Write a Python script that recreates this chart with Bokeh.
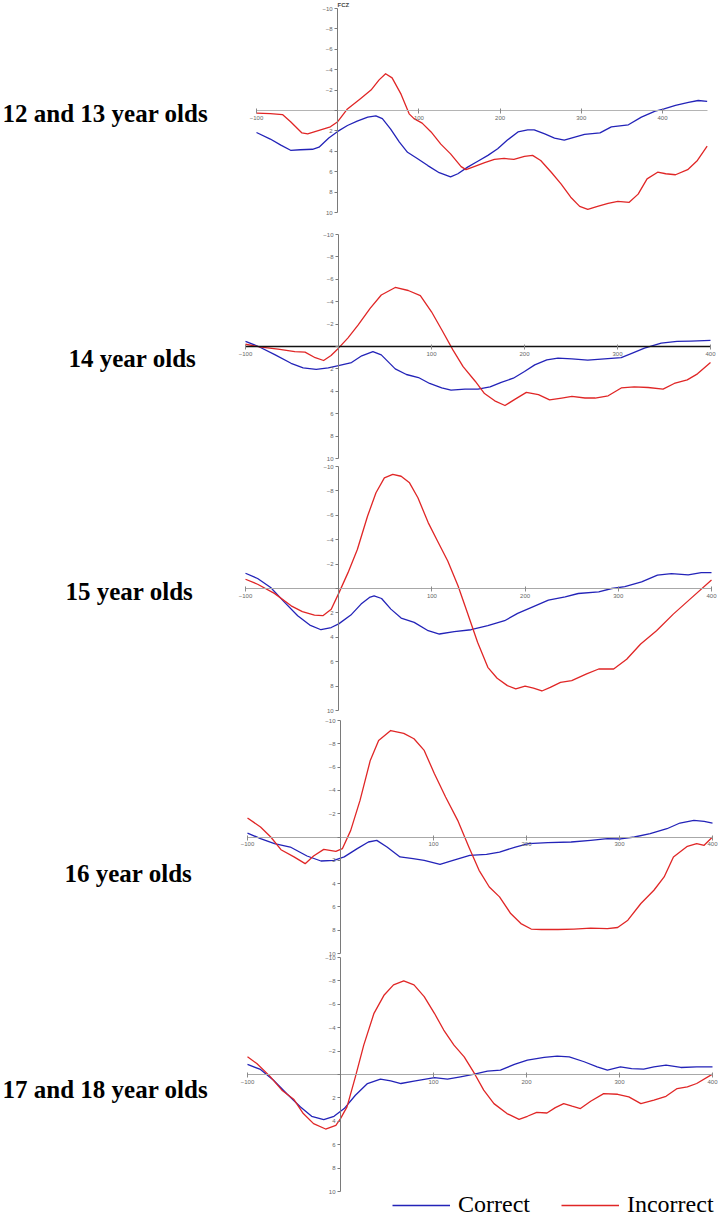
from bokeh.plotting import figure
from bokeh.models import Range1d, LinearAxis, FixedTicker, Label, Legend, LegendItem
from bokeh.embed import file_html
from bokeh.resources import INLINE

# ---------------- data (time in ms, amplitude in microvolts) ----------------
group_labels = ["12 and 13 year olds", "14 year olds", "15 year olds",
                "16 year olds", "17 and 18 year olds"]
series_names = ["Correct", "Incorrect"]
channel_name = "FCZ"
y_ticks = [-10, -8, -6, -4, -2, 0, 2, 4, 6, 8, 10]
x_ticks = [-100, 100, 200, 300, 400]

g1_correct_t = [-100, -83, -70, -58, -46, -31, -23, -11, 0, 12, 24, 37, 47, 55, 65, 76, 86, 98, 111, 125,
                139, 148, 160, 172, 185, 197, 209, 222, 234, 242, 255, 267, 279, 292, 304, 323, 337, 358,
                374, 391, 401, 416, 432, 444, 455]
g1_correct_v = [2.16, 2.8, 3.4, 3.9, 3.85, 3.8, 3.6, 2.7, 2.05, 1.47, 1.05, 0.65, 0.52, 0.8, 1.8, 3.1, 4.1,
                4.7, 5.4, 6.1, 6.5, 6.2, 5.55, 5.0, 4.4, 3.75, 2.9, 2.1, 1.9, 1.9, 2.3, 2.7, 2.9, 2.6, 2.35,
                2.2, 1.6, 1.4, 0.65, 0.07, -0.13, -0.5, -0.8, -0.98, -0.9]
g1_incorrect_t = [-100, -83, -68, -58, -44, -37, -25, -9, 0, 12, 28, 41, 51, 59, 67, 78, 88, 94, 104, 115,
                  127, 139, 152, 158, 168, 181, 193, 205, 217, 230, 240, 250, 263, 275, 287, 298, 308, 320,
                  333, 345, 359, 370, 381, 394, 404, 416, 431, 443, 455]
g1_incorrect_v = [0.26, 0.3, 0.4, 1.1, 2.2, 2.3, 2.0, 1.6, 1.1, -0.15, -1.15, -2.0, -3.0, -3.6, -3.2, -1.6,
                  0.33, 0.8, 1.24, 2.1, 3.3, 4.25, 5.5, 5.8, 5.5, 5.1, 4.8, 4.7, 4.8, 4.5, 4.4, 4.9, 6.05,
                  7.2, 8.5, 9.4, 9.7, 9.4, 9.1, 8.9, 9.0, 8.2, 6.7, 6.05, 6.2, 6.3, 5.8, 4.9, 3.5]

g2_correct_t = [-100, -86, -68, -51, -38, -24, -11, 0, 14, 25, 37, 46, 61, 73, 86, 98, 111, 121, 136, 150,
                163, 175, 188, 200, 211, 224, 236, 251, 268, 286, 304, 316, 329, 347, 364, 379, 400]
g2_correct_v = [-0.45, 0, 0.75, 1.5, 1.9, 2.05, 1.9, 1.7, 1.43, 0.83, 0.45, 0.75, 2.0, 2.5, 2.77, 3.3, 3.7,
                3.9, 3.8, 3.8, 3.6, 3.2, 2.83, 2.23, 1.64, 1.2, 1.04, 1.1, 1.22, 1.1, 1.0, 0.6, 0.15, -0.3,
                -0.45, -0.48, -0.54]
g2_incorrect_t = [-100, -83, -65, -47, -36, -25, -16, -8, 0, 10, 21, 34, 46, 61, 75, 88, 100, 111, 123, 134,
                  147, 157, 168, 179, 190, 202, 215, 227, 240, 251, 265, 276, 290, 304, 318, 333, 349, 361,
                  375, 386, 400]
g2_incorrect_v = [-0.2, 0.06, 0.24, 0.45, 0.5, 1.0, 1.25, 0.8, 0.15, -0.75, -1.9, -3.4, -4.6, -5.27, -5.0,
                  -4.55, -3.1, -1.5, 0.3, 1.8, 3.1, 4.2, 4.85, 5.27, 4.7, 4.1, 4.3, 4.76, 4.6, 4.46, 4.6,
                  4.6, 4.4, 3.7, 3.6, 3.66, 3.8, 3.3, 2.98, 2.44, 1.43]

g3_correct_t = [-100, -87, -73, -58, -44, -31, -19, -8, 0, 13, 24, 33, 38, 46, 56, 67, 81, 96, 108, 124,
                142, 160, 178, 192, 207, 225, 243, 257, 279, 293, 307, 325, 342, 357, 375, 389, 400]
g3_correct_v = [-1.25, -0.82, -0.08, 1.14, 2.23, 3.0, 3.38, 3.2, 2.9, 2.18, 1.28, 0.73, 0.6, 0.82, 1.69,
                2.42, 2.78, 3.46, 3.73, 3.54, 3.38, 3.05, 2.64, 2.04, 1.55, 0.95, 0.68, 0.41, 0.27, 0,
                -0.16, -0.54, -1.09, -1.22, -1.12, -1.3, -1.3]
g3_incorrect_t = [-100, -87, -69, -51, -39, -26, -17, -8, 0, 10, 20, 31, 40, 49, 58, 67, 76, 85, 96, 106,
                  117, 128, 138, 149, 160, 170, 181, 190, 200, 209, 218, 227, 238, 250, 266, 279, 295, 309,
                  324, 341, 359, 377, 400]
g3_incorrect_v = [-0.76, -0.35, 0.4, 1.42, 1.9, 2.18, 2.23, 1.7, 0.4, -1.3, -3.2, -5.94, -7.85, -9.07,
                  -9.35, -9.2, -8.66, -7.44, -5.4, -3.9, -2.26, -0.22, 1.96, 4.41, 6.46, 7.36, 7.96, 8.23,
                  8.0, 8.17, 8.4, 8.1, 7.7, 7.55, 7.0, 6.6, 6.6, 5.8, 4.55, 3.46, 2.1, 0.87, -0.7]

g4_correct_t = [-100, -86, -71, -54, -36, -21, -7, 4, 18, 30, 39, 50, 64, 78, 90, 107, 121, 139, 157, 171,
                188, 202, 223, 248, 269, 287, 301, 316, 333, 351, 365, 380, 391, 400]
g4_correct_v = [-0.34, 0.14, 0.57, 0.86, 1.63, 2.06, 2.0, 1.71, 1.0, 0.43, 0.29, 0.86, 1.71, 1.86, 2.0,
                2.34, 2.0, 1.57, 1.49, 1.29, 0.86, 0.57, 0.49, 0.43, 0.29, 0.14, 0.17, 0, -0.29, -0.71,
                -1.2, -1.43, -1.34, -1.2]
g4_incorrect_t = [-100, -86, -75, -64, -50, -38, -29, -18, -5, 2, 11, 21, 32, 41, 54, 68, 79, 90, 101, 113,
                  126, 138, 149, 160, 171, 183, 194, 205, 216, 234, 251, 269, 287, 298, 309, 323, 337, 348,
                  358, 373, 383, 391, 400]
g4_incorrect_v = [-1.63, -0.86, 0, 1.09, 1.71, 2.29, 1.63, 1.06, 1.23, 1.0, -0.57, -3.14, -6.57, -8.29,
                  -9.14, -8.9, -8.43, -7.43, -5.43, -3.43, -1.43, 0.86, 2.86, 4.29, 5.14, 6.57, 7.43, 7.9,
                  7.94, 7.94, 7.9, 7.83, 7.86, 7.77, 7.14, 5.71, 4.57, 3.43, 1.71, 0.8, 0.57, 0.71, 0]

g5_correct_t = [-100, -86, -72, -58, -43, -31, -18, -7, 4, 16, 29, 43, 54, 65, 79, 101, 115, 129, 144, 158,
                172, 187, 201, 219, 233, 246, 262, 276, 287, 301, 313, 326, 337, 350, 366, 383, 400]
g5_correct_v = [-0.86, -0.43, 0.49, 1.63, 2.77, 3.57, 3.86, 3.57, 2.91, 1.77, 0.77, 0.4, 0.54, 0.77, 0.57,
                0.26, 0.4, 0.2, -0.03, -0.29, -0.37, -0.86, -1.23, -1.46, -1.57, -1.51, -1.09, -0.66,
                -0.37, -0.66, -0.51, -0.46, -0.66, -0.8, -0.6, -0.66, -0.66]
g5_incorrect_t = [-100, -90, -76, -63, -50, -40, -29, -16, -5, 0, 7, 16, 25, 36, 47, 57, 68, 79, 90, 101,
                  111, 122, 133, 144, 154, 165, 179, 192, 201, 211, 222, 231, 240, 249, 258, 269, 283, 298,
                  310, 323, 337, 350, 362, 373, 383, 400]
g5_incorrect_v = [-1.51, -0.94, 0.14, 1.34, 2.14, 3.34, 4.2, 4.66, 4.34, 3.77, 2.77, 0.2, -2.51, -5.23,
                  -6.8, -7.66, -8.0, -7.66, -6.66, -5.23, -3.8, -2.51, -1.51, -0.09, 1.34, 2.49, 3.34,
                  3.83, 3.57, 3.23, 3.29, 2.83, 2.49, 2.71, 2.91, 2.29, 1.63, 1.69, 1.91, 2.49, 2.2, 1.86,
                  1.2, 1.06, 0.77, -0.03]

correct_t = [g1_correct_t, g2_correct_t, g3_correct_t, g4_correct_t, g5_correct_t]
correct_v = [g1_correct_v, g2_correct_v, g3_correct_v, g4_correct_v, g5_correct_v]
incorrect_t = [g1_incorrect_t, g2_incorrect_t, g3_incorrect_t, g4_incorrect_t, g5_incorrect_t]
incorrect_v = [g1_incorrect_v, g2_incorrect_v, g3_incorrect_v, g4_incorrect_v, g5_incorrect_v]

# ---------------- layout (page pixels; the canvas sits at the page origin) ----------------
W, H = 720, 1220
PAGE = 0
# (x pixel of -100, x pixel of 400, y pixel of -10, y pixel of +10, x-axis end)
panels = [
    (256, 662, 8, 212, 455),
    (245, 710, 234, 458, 400),
    (245, 711, 466, 710, 400),
    (247, 712, 720, 953, 400),
    (247, 712, 957, 1191, 400),
]
label_pos = [(2, 113), (68, 358), (65, 591), (64, 873), (2, 1089)]
xaxis_colors = ["#b4b4b4", "#111111", "#a8a8a8", "#a8a8a8", "#a8a8a8"]
BLUE = "#2323b8"
RED = "#e02626"


def x_range_for(px_a, px_b):
    k = (px_b - px_a) / 500.0
    s = -100 - (px_a - PAGE) / k
    return Range1d(start=s, end=s + W / k)


def y_range_for(py_a, py_b):
    k = (py_b - py_a) / 20.0
    top = -10 - (py_a - PAGE) / k
    bottom = top + H / k
    return Range1d(start=bottom, end=top)


p = figure(width=W, height=H, output_backend="svg", toolbar_location=None,
           x_axis_type=None, y_axis_type=None, min_border=0,
           x_range=Range1d(0, 1), y_range=Range1d(0, 1))
p.outline_line_color = None
p.background_fill_color = "white"

legend_renderers = {}
for i, (xa, xb, ya, yb, xend) in enumerate(panels):
    xn, yn = f"x{i}", f"y{i}"
    p.extra_x_ranges[xn] = x_range_for(xa, xb)
    p.extra_y_ranges[yn] = y_range_for(ya, yb)

    yax = LinearAxis(x_range_name=xn, y_range_name=yn, fixed_location=0, bounds=(-10, 10),
                     ticker=FixedTicker(ticks=y_ticks, minor_ticks=[]),
                     major_label_overrides={0: ""})
    yax.axis_line_color = "#7a7a7a"
    yax.major_tick_line_color = "#7a7a7a"
    yax.major_tick_out = 3
    yax.major_tick_in = 0
    yax.minor_tick_out = 0
    yax.major_label_text_font = "Liberation Sans"
    yax.major_label_text_font_size = "6px"
    yax.major_label_text_color = "#666666"
    yax.major_label_standoff = 2
    p.add_layout(yax, "left")

    xax = LinearAxis(x_range_name=xn, y_range_name=yn, fixed_location=0, bounds=(-100, xend),
                     ticker=FixedTicker(ticks=x_ticks, minor_ticks=[]))
    xax.axis_line_color = xaxis_colors[i]
    xax.axis_line_width = 1.4 if i == 1 else 1
    xax.major_tick_line_color = "#8a8a8a"
    xax.major_tick_out = 3
    xax.major_tick_in = 2
    xax.minor_tick_out = 0
    xax.major_label_text_font = "Liberation Sans"
    xax.major_label_text_font_size = "6px"
    xax.major_label_text_color = "#666666"
    xax.major_label_standoff = 2
    p.add_layout(xax, "below")

    rb = p.line(correct_t[i], correct_v[i], x_range_name=xn, y_range_name=yn,
                line_color=BLUE, line_width=1.3, line_join="round")
    rr = p.line(incorrect_t[i], incorrect_v[i], x_range_name=xn, y_range_name=yn,
                line_color=RED, line_width=1.3, line_join="round")
    if i == 0:
        legend_renderers = {"Correct": rb, "Incorrect": rr}

    lx, ly = label_pos[i]
    p.add_layout(Label(x=lx - PAGE, y=(PAGE + H) - ly, x_units="screen", y_units="screen",
                       text=group_labels[i], text_font="Liberation Serif", text_font_style="bold",
                       text_font_size="25px", text_color="black", text_baseline="alphabetic"))

p.add_layout(Label(x=337 - PAGE, y=H - 1, x_units="screen", y_units="screen", text=channel_name,
                   text_font="Liberation Sans", text_font_style="bold", text_font_size="6px",
                   text_color="#444444", text_baseline="top"))

legend = Legend(items=[LegendItem(label=n, renderers=[legend_renderers[n]]) for n in series_names],
                orientation="horizontal", location=(392 - PAGE, 2),
                glyph_width=58, glyph_height=22, label_standoff=8, spacing=31,
                padding=0, margin=0, border_line_color=None, background_fill_alpha=0,
                label_text_font="Liberation Serif", label_text_font_size="24px",
                label_text_color="black")
p.add_layout(legend)

open("out.html", "w").write(file_html(p, INLINE))
